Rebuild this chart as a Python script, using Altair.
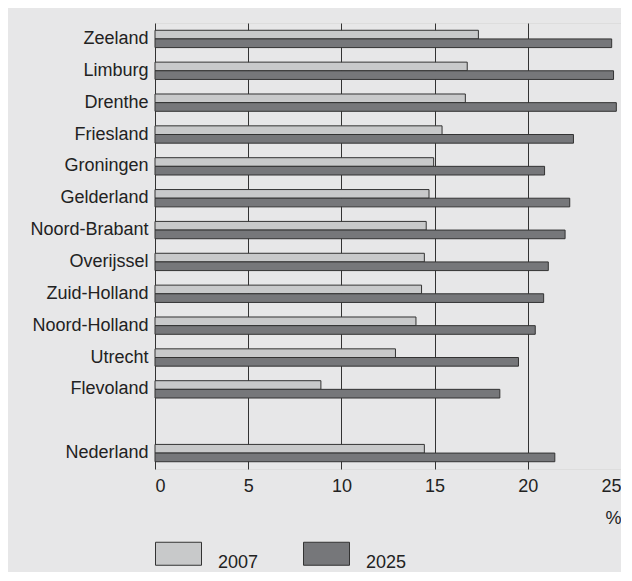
import altair as alt
import pandas as pd

provinces = ["Zeeland", "Limburg", "Drenthe", "Friesland", "Groningen", "Gelderland",
             "Noord-Brabant", "Overijssel", "Zuid-Holland", "Noord-Holland", "Utrecht",
             "Flevoland", "Nederland"]
share_2007 = [17.35, 16.75, 16.65, 15.4, 14.95, 14.7, 14.55, 14.45, 14.3, 14.0, 12.9, 8.9, 14.45]
share_2025 = [24.5, 24.6, 24.75, 22.45, 20.9, 22.25, 22.0, 21.1, 20.85, 20.4, 19.5, 18.5, 21.45]
years = ["2007", "2025"]
x_ticks = [0, 5, 10, 15, 20, 25]

row_order = provinces[:-1] + [" "] + provinces[-1:]

rows = []
for p, a, b in zip(provinces, share_2007, share_2025):
    rows.append({"region": p, "year": "2007", "share": a})
    rows.append({"region": p, "year": "2025", "share": b})
df = pd.DataFrame(rows)

FONT = "Liberation Sans"

chart = alt.Chart(df).mark_bar(stroke="#333333", strokeWidth=1, opacity=1).encode(
    x=alt.X("share:Q",
            scale=alt.Scale(domain=[0, 25], nice=False, zero=True),
            axis=alt.Axis(values=x_ticks, title="%", ticks=False, domain=False,
                          grid=True, gridColor="#333333", gridWidth=1, gridOpacity=1,
                          labelPadding=8, labelFontSize=18, labelColor="#222222",
                          labelFont=FONT, titleFont=FONT, titleFontSize=18,
                          titleFontWeight="normal", titleColor="#222222",
                          titleX=466, titleY=54, titleAlign="right",
                          titleBaseline="alphabetic")),
    y=alt.Y("region:N", sort=row_order,
            scale=alt.Scale(domain=row_order, paddingInner=0, paddingOuter=0),
            axis=alt.Axis(title=None, ticks=False, domain=False, grid=False,
                          labelPadding=7, labelFontSize=18, labelColor="#222222",
                          labelFont=FONT)),
    yOffset=alt.YOffset("year:N",
                        scale=alt.Scale(domain=years, paddingInner=0, paddingOuter=0.84)),
    color=alt.Color("year:N",
                    scale=alt.Scale(domain=years, range=["#c8c9ca", "#76777a"]),
                    legend=alt.Legend(title=None, orient="none", legendX=0, legendY=507,
                                      direction="horizontal",
                                      symbolType="M-1,-0.5H1V0.5H-1Z", symbolSize=2116,
                                      symbolStrokeColor="#333333", symbolStrokeWidth=1,
                                      symbolOpacity=1, labelFontSize=18, labelFont=FONT,
                                      labelColor="#222222", labelOffset=16,
                                      columnPadding=42, labelBaseline="top", padding=0)),
).properties(
    width=466,
    height=446,
    padding={"left": 21, "top": 15, "right": 0, "bottom": 0},
    background="#e7e7e8",
).configure_view(
    fill="white", stroke="#222222", strokeWidth=1.5
).configure(font=FONT)

chart.save("out.html", embed_options={"renderer": "svg", "actions": False})
